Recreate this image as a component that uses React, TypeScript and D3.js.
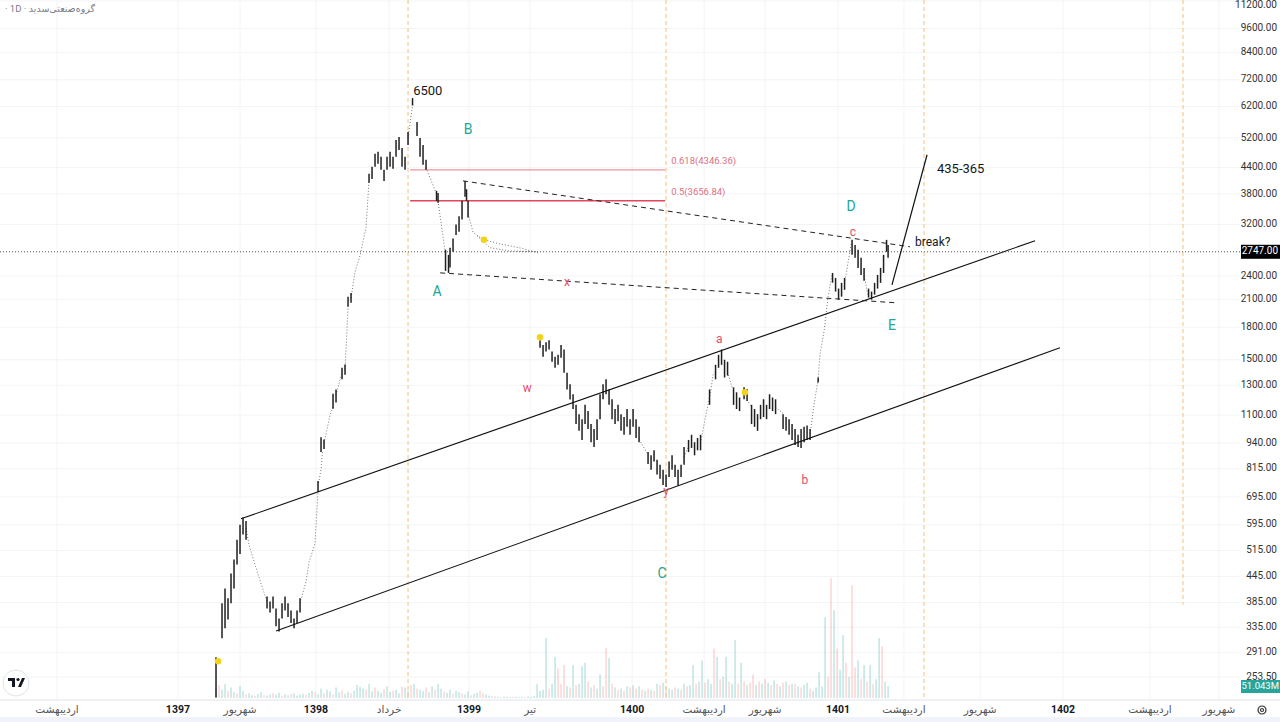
import { line, scaleLinear, scaleLog } from "d3";

const W = 1280;
const H = 722;
const PLOT_RIGHT = 1240;
const AXIS_TOP = 700;
const FONT = "Roboto, 'DejaVu Sans', sans-serif";
const TEAL = "#22a594";
const RED = "#e0506a";
const DARK = "#131722";

// price axis ticks (log scale)
const priceTicks = [11200, 9600, 8400, 7200, 6200, 5200, 4400, 3800, 3200, 2400, 2100, 1800, 1500, 1300, 1100, 940, 815, 695, 595, 515, 445, 385, 335, 291, 253.5];

// time axis: [slot, label, isYear]
const timeTicks: [number, string, boolean][] = [
  [19, "اردیبهشت", false],
  [59.3, "1397", true],
  [80, "شهریور", false],
  [105.3, "1398", true],
  [129.7, "خرداد", false],
  [156.3, "1399", true],
  [176.7, "تیر", false],
  [210.7, "1400", true],
  [234.7, "اردیبهشت", false],
  [255, "شهریور", false],
  [279.3, "1401", true],
  [301.3, "اردیبهشت", false],
  [326.7, "شهریور", false],
  [354.3, "1402", true],
  [383.3, "اردیبهشت", false],
  [406.3, "شهریور", false],
];

// session separators: [slot, lowest price reached or null = full height]
const sessionLines: [number, number | null][] = [
  [136, null],
  [222, null],
  [308, null],
  [394.3, 380],
];

// bars: [slot, high, low]
const bars: [number, number, number][] = [
  [72, 283, 226], [74, 383, 315], [75, 416, 333], [76, 394, 350], [77, 453, 383], [78, 490, 416],
  [79, 547, 476], [80, 595, 505], [81, 620, 563], [82, 608, 547],
  [89, 398, 372], [90, 387, 364], [91, 398, 372], [92, 372, 337], [93, 352, 327], [94, 383, 352],
  [95, 398, 368], [96, 383, 355], [97, 368, 343], [98, 352, 333], [99, 368, 343], [100, 394, 364],
  [106, 760, 715], [107, 972, 894], [108, 960, 910], [111, 1240, 1140], [112, 1270, 1180],
  [114, 1434, 1344], [115, 1460, 1380], [116, 2136, 2019], [117, 2180, 2065],
  [123, 4255, 4042], [124, 4425, 4130], [125, 4760, 4425], [126, 4810, 4500], [127, 4680, 4350],
  [128, 4350, 4085], [129, 4680, 4350], [130, 4810, 4425], [131, 4680, 4375], [132, 5142, 4680],
  [133, 5230, 4860], [134, 4915, 4425], [135, 4680, 4350], [136, 5378, 5000],
  [137.5, 6500, 6235], [139, 5688, 5258], [140, 5200, 4680], [141, 5000, 4475], [142, 4600, 4350],
  [145.5, 3864, 3654], [146, 3820, 3615],
  [148.5, 2778, 2468], [149.5, 2700, 2440], [150, 2810, 2515], [151, 2960, 2747], [152, 3200, 3020],
  [153, 3350, 3075], [154, 3654, 3290], [155, 4087, 3740], [155.5, 3900, 3654], [156, 3654, 3330],
  [180, 1674, 1605], [181, 1630, 1525], [182, 1655, 1570], [183, 1674, 1588], [184, 1570, 1483],
  [185, 1525, 1434], [186, 1542, 1458], [187, 1630, 1517], [188, 1588, 1395], [189, 1395, 1270],
  [190, 1307, 1200], [191, 1236, 1138], [192, 1165, 1047], [193, 1106, 1007], [194, 1075, 957],
  [195, 1165, 1047], [196, 1125, 1018], [197, 1046, 945], [198, 1018, 920], [199, 1075, 957],
  [200, 1236, 1075], [201, 1307, 1202], [202, 1344, 1236], [203, 1271, 1165], [204, 1202, 1075],
  [205, 1138, 1046], [206, 1165, 1063], [207, 1106, 1007], [208, 1088, 985], [209, 1138, 1030],
  [210, 1075, 985], [211, 1138, 1030], [212, 1075, 968], [213, 1030, 945],
  [216, 894, 836], [217, 878, 810], [218, 903, 848], [219, 857, 789], [220, 833, 770], [221, 810, 743],
  [222, 789, 735], [223, 848, 778], [224, 878, 810], [225, 833, 778], [226, 810, 740], [227, 833, 778],
  [228, 920, 833],
  [229.5, 957, 894], [230.5, 985, 915], [231.5, 945, 878], [232.5, 968, 903], [233.5, 985, 903],
  [236.5, 1270, 1165],
  [238.5, 1458, 1344], [239.5, 1542, 1434], [240.5, 1588, 1458], [241.5, 1500, 1358], [242.5, 1483, 1373],
  [244.5, 1285, 1165], [245.5, 1250, 1138], [246.5, 1214, 1125], [248, 1285, 1202], [249, 1271, 1190],
  [250.5, 1165, 1046], [251.5, 1138, 1030], [252.5, 1106, 1007], [253.5, 1165, 1075], [254.5, 1202, 1088],
  [255.5, 1165, 1075], [256.5, 1236, 1138], [257.5, 1214, 1125], [258.5, 1202, 1106],
  [261, 1106, 1018], [262, 1088, 1007], [263, 1075, 985], [264, 1046, 957], [265, 1018, 930],
  [266, 985, 920], [267, 1018, 915], [268, 1030, 945], [269, 1038, 957], [270, 1018, 957],
  [272.7, 1358, 1320],
  [277.5, 2440, 2310], [278.5, 2373, 2198], [279.5, 2235, 2100], [280.5, 2308, 2136], [281.5, 2373, 2220],
  [284, 2937, 2700], [285, 2855, 2655], [286, 2778, 2510], [287, 2655, 2413], [288, 2510, 2335],
  [289.5, 2235, 2125], [290.5, 2198, 2100], [291.5, 2308, 2160], [292.5, 2413, 2235], [293.5, 2510, 2308],
  [294.5, 2700, 2440], [295.5, 2937, 2747], [296, 2855, 2655],
];

// dotted trails across sessions without bars: [slot, price]
const gapTrails: [number, number][][] = [
  [[82, 584], [83, 532], [85, 476], [87, 428], [89, 387]],
  [[100, 383], [102, 433], [103, 482], [105, 536], [106, 720]],
  [[106, 740], [107, 810], [107.5, 900]],
  [[108, 940], [110, 1100], [111, 1150]],
  [[112, 1230], [114, 1400]],
  [[115, 1420], [116, 2000]],
  [[117, 2120], [118.3, 2450], [120, 2690], [122, 3147], [123, 4087]],
  [[136, 5200], [137.5, 6235]],
  [[142, 4400], [145.5, 3800]],
  [[146, 3650], [148.5, 2700]],
  [[156, 3400], [157.7, 3060], [159.3, 3005], [161.3, 2938], [166.7, 2870], [173.3, 2808], [179.3, 2732]],
  [[159, 3005], [163.3, 2810], [170, 2760], [179.3, 2747]],
  [[213, 960], [216, 880]],
  [[228, 870], [229.5, 925]],
  [[233.5, 940], [235, 1075], [236.7, 1236], [237.7, 1380], [238.5, 1400]],
  [[242.5, 1400], [244, 1285]],
  [[249, 1200], [250.5, 1150]],
  [[258.5, 1150], [261, 1110]],
  [[270, 990], [271.3, 1165], [272.7, 1344], [273.3, 1542], [274.7, 1770], [276, 2136], [277.3, 2410]],
  [[281.5, 2300], [283.7, 2870]],
  [[288, 2400], [289.3, 2160]],
];

// volume in millions, one per slot from volumeStart; negative = down day
const volumeStart = 72;
const volumes = [
  40, -55, 35, 60, -30, 45, 25, -20, 50, 30,
  -15, 20, 12, -10, 18, 25, -12, 10, 15, -20, 14, 22, -9, 16, 12, -18, 20, 10, 15,
  18, -14, 22, 30, -25, 16, 40, -20, 35, 28, -15, 45, 24, -32, 18, 26, -20, 30, 55, 48,
  40, -35, 60, 28, -45, 30, 22, -38, 50, 26, -30, 35, 20, -48, 45, 30, -55, 60, -40, 35,
  30, -45, 25, 50, -35, 60, 40, -28, 22, 35, -18, 30, 25, -20, 15, 28, -12, 18, 22, -30,
  -20, 15, 10, -8, 6, 5, -4, 6, 5, 4, -5, 6, 4, 5, -4, 6, 5, 8, 60, 30,
  35, 255, -40, 60, 175, -125, -60, -140, 50, -45, 140, -55, 60, 135, 150, -70, 45, -55, 40, 100,
  -50, -212, 170, -60, 45, -35, 40, -30, 50, -45, 55, -40, 50, -35, 30, -40, 35, -30, 60, -55,
  65, -50, 40, 35, -45, 40, -35, 60, -50, 55, 140, -60, 70, 160, -65, 80, 60, -210, 175, -80,
  90, 175, -70, 60, 246, -60, 150, -70, 55, -65, -100, 55, -70, 60, -80, 65, -55, 75, -60, 50,
  -65, 70, -55, 60, -60, 50, -45, 55, 65, -40, 30, 45, 110, 50, 344, -90, -510, 374, -210, 120,
  268, -150, 90, -480, -130, 160, -80, 140, -70, 140, -60, 80, 255, -220, 70, 51.043,
];

const channelLines: [number, number][][] = [
  [[80.3, 615], [345, 2922]],
  [[92, 328], [353.3, 1604]],
];
const triangleLines: [number, number][][] = [
  [[154.3, 4087], [303.3, 2825]],
  [[146.7, 2441], [298.3, 2065]],
];
const projection: [number, number][] = [[297.3, 2282], [309, 4732]];

// fibonacci levels: [ratio, price, colour]
const fibLevels: [string, number, string][] = [
  ["0.618", 4346.36, "#f0929d"],
  ["0.5", 3656.84, "#e3455a"],
];
const fibStart = 136.7;
const fibEnd = 221.7;

const markers: [number, number][] = [[72.7, 277], [161.3, 2938], [180, 1702], [248.3, 1250]];

// [text, slot, price, color, size, anchor]
const labels: [string, number, number, string, number, "start" | "middle"][] = [
  ["6500", 137.7, 6744, DARK, 13, "start"],
  ["B", 156, 5438, TEAL, 14, "middle"],
  ["A", 145.7, 2184, TEAL, 14, "middle"],
  ["D", 283.7, 3533, TEAL, 14, "middle"],
  ["E", 297.3, 1810, TEAL, 14, "middle"],
  ["C", 220.7, 450, TEAL, 14, "middle"],
  ["x", 189, 2308, RED, 12, "middle"],
  ["w", 175.7, 1271, RED, 12, "middle"],
  ["a", 239.7, 1674, RED, 12, "middle"],
  ["y", 222, 715, RED, 12, "middle"],
  ["b", 268.3, 762, RED, 12, "middle"],
  ["c", 284.3, 3060, RED, 12, "middle"],
  ["break?", 305, 2889, DARK, 12, "start"],
  ["435-365", 312.3, 4346, DARK, 13, "start"],
];

const lastPrice = 2747;
const lastVolume = 51.043;

export default function App() {
  const x = scaleLinear().domain([0, 413.3]).range([0, PLOT_RIGHT]);
  const y = scaleLog().domain([253.5, 11200]).range([677, 1]);
  const vol = scaleLinear().domain([0, 600]).range([698, 557]);
  const path = line<[number, number]>()
    .x((d) => x(d[0]))
    .y((d) => y(d[1]));

  return (
    <svg
      width={W}
      height={H}
      viewBox={`0 0 ${W} ${H}`}
      style={{ position: "fixed", left: 0, top: 0, background: "#fff" }}
      fontFamily={FONT}
    >
      <rect width={W} height={H} fill="#fff" />

      {/* grid */}
      {priceTicks.map((t) => (
        <line key={`gy${t}`} x1={0} x2={PLOT_RIGHT} y1={y(t)} y2={y(t)} stroke="#f3f4f6" />
      ))}
      {timeTicks.map(([s, l]) => (
        <line key={`gx${s}${l}`} x1={x(s)} x2={x(s)} y1={0} y2={AXIS_TOP} stroke="#f3f4f6" />
      ))}

      {/* volume */}
      {volumes.map((v, i) => {
        const top = vol(Math.abs(v));
        return (
          <rect
            key={`v${i}`}
            x={x(volumeStart + i) - 0.6}
            y={top}
            width={1.2}
            height={vol(0) - top}
            fill={v >= 0 ? "rgba(38,166,154,0.36)" : "rgba(239,83,80,0.3)"}
          />
        );
      })}

      {/* session separators */}
      {sessionLines.map(([s, end]) => (
        <line
          key={`s${s}`}
          x1={x(s)}
          x2={x(s)}
          y1={0}
          y2={end === null ? AXIS_TOP : y(end)}
          stroke="#f2c27f"
          strokeDasharray="4 3"
        />
      ))}

      {/* last price line */}
      <line x1={0} x2={PLOT_RIGHT} y1={y(lastPrice)} y2={y(lastPrice)} stroke="#555" strokeDasharray="1 2" />

      {/* fib levels */}
      {fibLevels.map(([r, p, c]) => (
        <g key={`f${r}`}>
          <line x1={x(fibStart)} x2={x(fibEnd)} y1={y(p)} y2={y(p)} stroke={c} strokeWidth={1.3} />
          <text x={x(fibEnd) + 6} y={y(p) - 6} fontSize={9.5} fill="#e0707f">
            {`${r}(${p.toFixed(2)})`}
          </text>
        </g>
      ))}

      {/* gap trails */}
      {gapTrails.map((t, i) => (
        <path key={`t${i}`} d={path(t) ?? ""} fill="none" stroke="#666" strokeWidth={0.9} strokeDasharray="1 2" />
      ))}

      {/* bars */}
      {bars.map(([s, hi, lo]) => (
        <line key={`b${s}`} x1={x(s)} x2={x(s)} y1={y(hi)} y2={y(lo)} stroke="#1f1f1f" strokeWidth={1.5} />
      ))}

      {/* channel + triangle + projection */}
      {channelLines.map((l, i) => (
        <path key={`c${i}`} d={path(l) ?? ""} stroke="#111" strokeWidth={1.1} fill="none" />
      ))}
      {triangleLines.map((l, i) => (
        <path key={`d${i}`} d={path(l) ?? ""} stroke="#222" strokeWidth={1} strokeDasharray="5 4" fill="none" />
      ))}
      <path d={path(projection) ?? ""} stroke="#111" strokeWidth={1.2} fill="none" />

      {/* markers */}
      {markers.map(([s, p]) => (
        <circle key={`m${s}`} cx={x(s)} cy={y(p)} r={3.3} fill="#f2d31b" />
      ))}

      {/* annotations */}
      {labels.map(([t, s, p, c, size, anchor]) => (
        <text key={`l${t}`} x={x(s)} y={y(p)} fill={c} fontSize={size} textAnchor={anchor} dominantBaseline="middle">
          {t}
        </text>
      ))}

      {/* title */}
      <text x={5} y={12} fontSize={9.5} fill="#787b86">· 1D ·</text>
      <text x={95} y={12} fontSize={9.5} fill="#787b86" textAnchor="end">گروه‌صنعتی‌سدید</text>

      {/* price axis */}
      {priceTicks.map((t) => (
        <text
          key={`py${t}`}
          x={1277}
          y={Math.max(y(t), 5)}
          fontSize={10}
          fill="#333"
          textAnchor="end"
          dominantBaseline="middle"
        >
          {t.toFixed(2)}
        </text>
      ))}
      <rect x={PLOT_RIGHT + 1} y={y(lastPrice) - 7} width={W - PLOT_RIGHT - 1} height={14} fill="#000" />
      <text x={1278} y={y(lastPrice)} fontSize={10} fill="#fff" textAnchor="end" dominantBaseline="middle">
        {lastPrice.toFixed(2)}
      </text>
      <rect x={PLOT_RIGHT + 1} y={vol(lastVolume) - 6} width={W - PLOT_RIGHT - 1} height={13} fill="#26a69a" />
      <text x={1279} y={vol(lastVolume) + 0.5} fontSize={9.5} fill="#fff" textAnchor="end" dominantBaseline="middle">
        {`${lastVolume.toFixed(3)}M`}
      </text>

      {/* time axis */}
      <line x1={0} x2={W} y1={AXIS_TOP} y2={AXIS_TOP} stroke="#e0e3eb" />
      {timeTicks.map(([s, l, year]) => (
        <text
          key={`tx${s}${l}`}
          x={x(s)}
          y={710}
          fontSize={10.5}
          fill={year ? DARK : "#555"}
          fontWeight={year ? 700 : 400}
          textAnchor="middle"
          dominantBaseline="middle"
        >
          {l}
        </text>
      ))}
      <rect x={0} y={717} width={W} height={5} fill="#f0f3fa" />

      {/* settings gear */}
      <g transform="translate(1262,710)" stroke="#333" fill="none" strokeWidth={1.2}>
        <circle r={4} />
        <circle r={1.5} />
      </g>

      {/* logo */}
      <g transform="translate(16,683)">
        <circle r={13} fill="#fff" stroke="#e0e3eb" />
        <path d="M-8,-5 h7 v9 h-3 v-6 h-4 z" fill="#131722" />
        <circle cx={2} cy={-3.5} r={1.6} fill="#131722" />
        <path d="M2,4 l4,-9 h3 l-4,9 z" fill="#131722" />
      </g>
    </svg>
  );
}
